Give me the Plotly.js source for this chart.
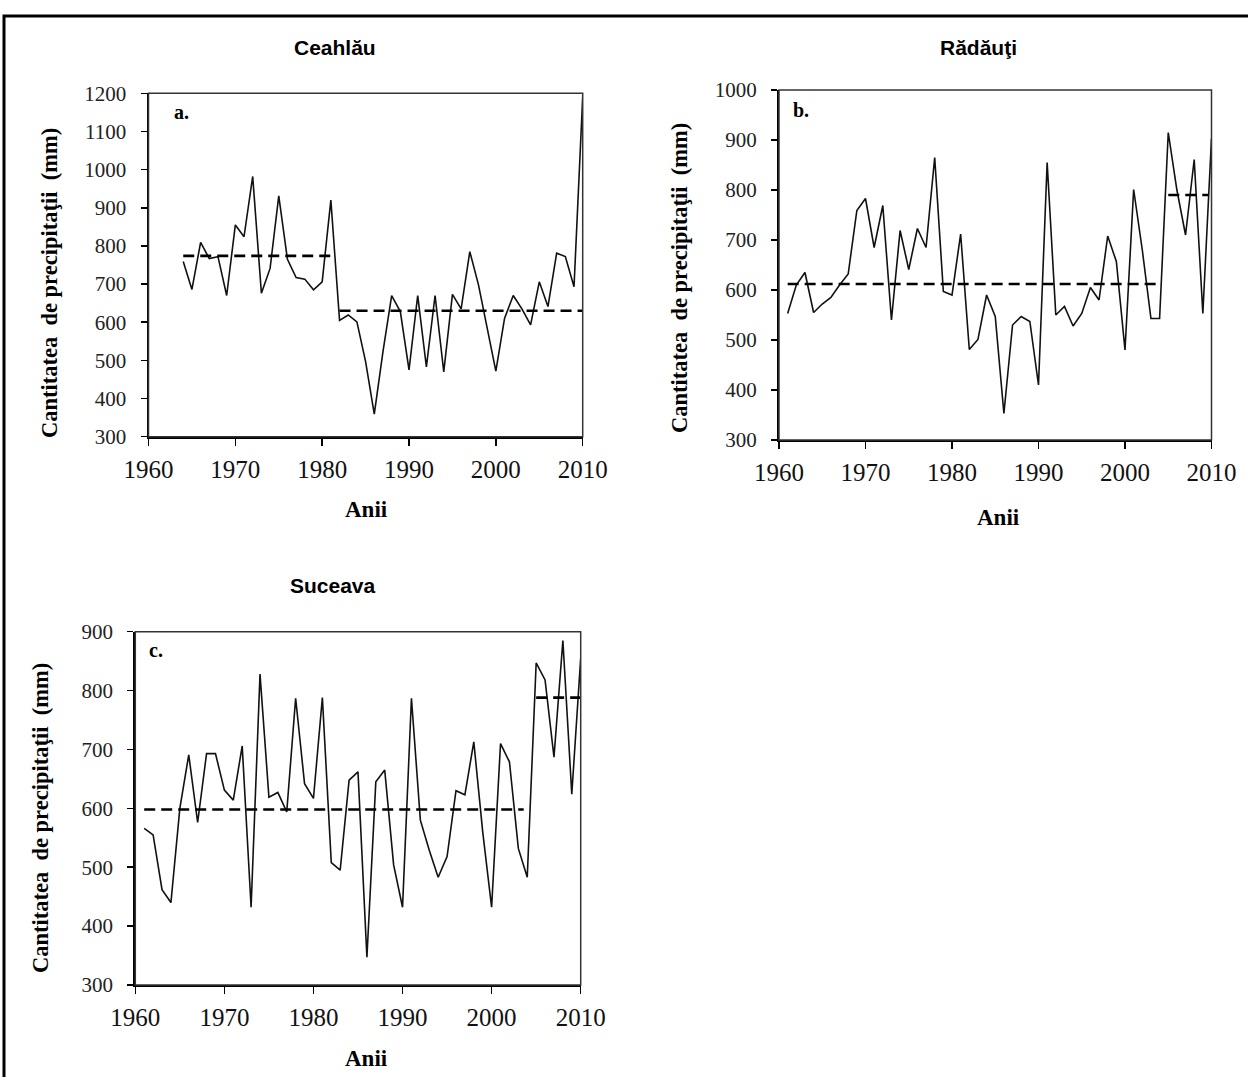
<!DOCTYPE html>
<html>
<head>
<meta charset="utf-8">
<script src="https://cdn.plot.ly/plotly-3.0.1.min.js"></script>
<style>html,body{margin:0;padding:0;background:#fff;}#chart{width:1248px;height:1077px;}</style>
</head>
<body>
<div id="chart"></div>
<script>
// ---- data ----
const yearsCeahlau = [1964,1965,1966,1967,1968,1969,1970,1971,1972,1973,1974,1975,1976,1977,1978,1979,1980,1981,1982,1983,1984,1985,1986,1987,1988,1989,1990,1991,1992,1993,1994,1995,1996,1997,1998,1999,2000,2001,2002,2003,2004,2005,2006,2007,2008,2009,2010];
const precCeahlau = [759,686,809,767,772,670,855,824,982,676,741,931,765,717,713,685,706,920,605,619,601,497,359,523,670,628,475,670,483,670,470,673,635,785,698,584,472,610,670,635,593,706,641,781,772,693,1190];

const yearsRadauti = [1961,1962,1963,1964,1965,1966,1967,1968,1969,1970,1971,1972,1973,1974,1975,1976,1977,1978,1979,1980,1981,1982,1983,1984,1985,1986,1987,1988,1989,1990,1991,1992,1993,1994,1995,1996,1997,1998,1999,2000,2001,2002,2003,2004,2005,2006,2007,2008,2009,2010];
const precRadauti = [553,610,635,555,572,585,610,632,759,783,685,769,540,719,641,723,685,865,597,590,712,481,501,590,547,353,530,547,537,410,855,550,567,528,553,605,580,708,657,480,801,680,543,543,915,800,710,861,553,903];

const yearsSuceava = [1961,1962,1963,1964,1965,1966,1967,1968,1969,1970,1971,1972,1973,1974,1975,1976,1977,1978,1979,1980,1981,1982,1983,1984,1985,1986,1987,1988,1989,1990,1991,1992,1993,1994,1995,1996,1997,1998,1999,2000,2001,2002,2003,2004,2005,2006,2007,2008,2009,2010];
const precSuceava = [566,555,462,440,600,691,576,693,693,631,614,706,432,828,619,627,594,787,642,617,788,508,495,648,662,347,645,665,504,432,787,580,529,483,518,630,623,713,560,432,710,679,532,483,847,818,687,885,624,855];

// mean segments (start year, end year, mean)
const meanCeahlauX1 = [1964,1981.2], meanCeahlauY1 = [774,774];
const meanCeahlauX2 = [1982,2010],   meanCeahlauY2 = [630,630];
const meanRadautiX1 = [1961,2004],   meanRadautiY1 = [612,612];
const meanRadautiX2 = [2005,2009.6], meanRadautiY2 = [790,790];
const meanSuceavaX1 = [1961,2003.6], meanSuceavaY1 = [598,598];
const meanSuceavaX2 = [2005,2010],   meanSuceavaY2 = [788,788];

const xTicks = [1960,1970,1980,1990,2000,2010];
const titles = ["Ceahlău","Rădăuţi","Suceava"];
const panelLabels = ["a.","b.","c."];
const yTitle = "Cantitatea\u00a0 de precipitaţii\u00a0 (mm)";
const xTitle = "Anii";

// ---- layout helpers ----
const W = 1248, H = 1077;
const px = v => v / W;
const py = v => 1 - v / H;

const serif = "Liberation Serif, Times New Roman, serif";
const sans = "Liberation Sans, Arial, sans-serif";

function series(x, y, xa, ya) {
  return {x: x, y: y, xaxis: xa, yaxis: ya, type: 'scatter', mode: 'lines',
          line: {color: '#111', width: 1.6}, hoverinfo: 'skip', showlegend: false};
}
function mean(x, y, xa, ya) {
  return {x: x, y: y, xaxis: xa, yaxis: ya, type: 'scatter', mode: 'lines',
          line: {color: '#000', width: 2.6, dash: '11px,6px'}, hoverinfo: 'skip', showlegend: false};
}

const data = [
  series(yearsCeahlau, precCeahlau, 'x', 'y'),
  mean(meanCeahlauX1, meanCeahlauY1, 'x', 'y'),
  mean(meanCeahlauX2, meanCeahlauY2, 'x', 'y'),
  series(yearsRadauti, precRadauti, 'x2', 'y2'),
  mean(meanRadautiX1, meanRadautiY1, 'x2', 'y2'),
  mean(meanRadautiX2, meanRadautiY2, 'x2', 'y2'),
  series(yearsSuceava, precSuceava, 'x3', 'y3'),
  mean(meanSuceavaX1, meanSuceavaY1, 'x3', 'y3'),
  mean(meanSuceavaX2, meanSuceavaY2, 'x3', 'y3')
];

function xAxis(dom, anchor) {
  return {domain: dom, anchor: anchor, range: [1960, 2010], tickvals: xTicks,
          ticks: 'outside', ticklen: 7, tickwidth: 1.5, tickcolor: '#000',
          showline: true, linewidth: 2, linecolor: '#000', showgrid: false, zeroline: false,
          tickfont: {family: serif, size: 25, color: '#111'}, ticklabelstandoff: 2, fixedrange: true};
}
function yAxis(dom, anchor, r) {
  return {domain: dom, anchor: anchor, range: r, tick0: 300, dtick: 100,
          ticks: 'outside', ticklen: 6, tickwidth: 1.5, tickcolor: '#000',
          showline: true, linewidth: 2, linecolor: '#000', showgrid: false, zeroline: false,
          tickfont: {family: serif, size: 21, color: '#222'}, ticklabelstandoff: 10, fixedrange: true};
}
function xInner(dom, over, anchor) {
  return {domain: dom, overlaying: over, anchor: anchor, range: [1960, 2010], tickvals: xTicks,
          ticks: 'inside', ticklen: 9, tickwidth: 1.5, tickcolor: '#000', showticklabels: false,
          showline: false, showgrid: false, zeroline: false, fixedrange: true};
}
function yInner(dom, over, anchor, r) {
  return {domain: dom, overlaying: over, anchor: anchor, range: r, tick0: 300, dtick: 100,
          ticks: 'inside', ticklen: 7, tickwidth: 1.5, tickcolor: '#000', showticklabels: false,
          showline: false, showgrid: false, zeroline: false, fixedrange: true};
}

const domXA = [px(148.5), px(582.7)], domYA = [py(436.7), py(93.3)];
const domXB = [px(779), px(1211.5)],  domYB = [py(440), py(90)];
const domXC = [px(135.3), px(580.7)], domYC = [py(985), py(631.7)];

function ann(text, x, y, font, angle) {
  const a = {text: text, x: x, y: y, xref: 'paper', yref: 'paper', xanchor: 'center', yanchor: 'middle',
             showarrow: false, font: font};
  if (angle !== undefined) a.textangle = angle;
  return a;
}
const titleFont = {family: sans, size: 21, color: '#000', weight: 'bold'};
const axisTitleFont = {family: serif, size: 22.5, color: '#000', weight: 'bold'};
const xTitleFont = {family: serif, size: 23, color: '#000', weight: 'bold'};
const panelFont = {family: serif, size: 20, color: '#000', weight: 'bold'};

const layout = {
  width: W, height: H,
  margin: {l: 0, r: 0, t: 0, b: 0},
  paper_bgcolor: '#fff', plot_bgcolor: '#fff',
  showlegend: false,
  xaxis: xAxis(domXA, 'y'),  yaxis: yAxis(domYA, 'x', [300, 1200]),
  xaxis2: xAxis(domXB, 'y2'), yaxis2: yAxis(domYB, 'x2', [300, 1000]),
  xaxis3: xAxis(domXC, 'y3'), yaxis3: yAxis(domYC, 'x3', [300, 900]),
  xaxis4: xInner(domXA, 'x', 'y'),  yaxis4: yInner(domYA, 'y', 'x', [300, 1200]),
  xaxis5: xInner(domXB, 'x2', 'y2'), yaxis5: yInner(domYB, 'y2', 'x2', [300, 1000]),
  xaxis6: xInner(domXC, 'x3', 'y3'), yaxis6: yInner(domYC, 'y3', 'x3', [300, 900]),
  shapes: [
    {type: 'rect', xref: 'x domain', yref: 'y domain', x0: 0, x1: 1, y0: 0, y1: 1, line: {color: '#333', width: 1.5}},
    {type: 'rect', xref: 'x2 domain', yref: 'y2 domain', x0: 0, x1: 1, y0: 0, y1: 1, line: {color: '#333', width: 1.5}},
    {type: 'rect', xref: 'x3 domain', yref: 'y3 domain', x0: 0, x1: 1, y0: 0, y1: 1, line: {color: '#333', width: 1.5}},
    {type: 'rect', xref: 'paper', yref: 'paper', x0: px(4), x1: 1.05, y0: -0.05, y1: py(16), line: {color: '#000', width: 3}}
  ],
  annotations: [
    ann(titles[0], px(335), py(48), titleFont),
    ann(titles[1], px(978), py(48), titleFont),
    ann(titles[2], px(333), py(585), titleFont),
    ann(panelLabels[0], px(181), py(112), panelFont),
    ann(panelLabels[1], px(801), py(110), panelFont),
    ann(panelLabels[2], px(156), py(650), panelFont),
    ann(yTitle, px(50), py(283), axisTitleFont, -90),
    ann(yTitle, px(680), py(278), axisTitleFont, -90),
    ann(yTitle, px(40), py(818), axisTitleFont, -90),
    ann(xTitle, px(366), py(510), xTitleFont),
    ann(xTitle, px(998), py(518), xTitleFont),
    ann(xTitle, px(366), py(1058), xTitleFont)
  ]
};

Plotly.newPlot('chart', data, layout, {displayModeBar: false, staticPlot: true});
</script>
</body>
</html>
